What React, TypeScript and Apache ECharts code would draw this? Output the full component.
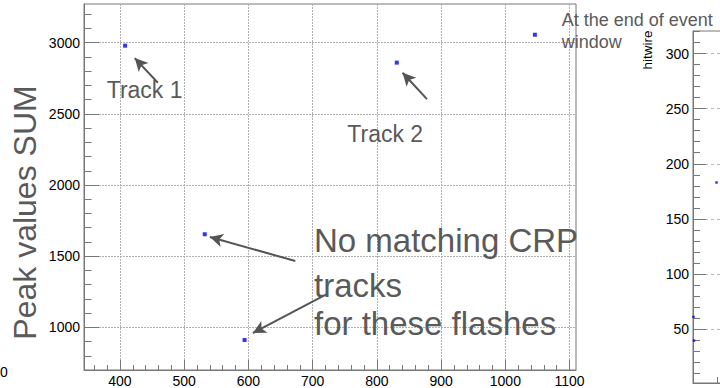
import React, { useEffect, useRef } from "react";
import * as echarts from "echarts";

// ---- data ----
const flashTime = [408, 831, 1046, 532, 594];
const peakSum = [2979, 2860, 3056, 1654, 911];

const xMajorTicks = [400, 500, 600, 700, 800, 900, 1000, 1100];
const xMinorTicks = [360, 380, 400, 420, 440, 460, 480, 500, 520, 540, 560, 580, 600, 620, 640, 660, 680, 700, 720, 740, 760, 780, 800, 820, 840, 860, 880, 900, 920, 940, 960, 980, 1000, 1020, 1040, 1060, 1080, 1100];
const yMajorTicks = [1000, 1500, 2000, 2500, 3000];
const yMinorTicks = [800, 900, 1000, 1100, 1200, 1300, 1400, 1500, 1600, 1700, 1800, 1900, 2000, 2100, 2200, 2300, 2400, 2500, 2600, 2700, 2800, 2900, 3000, 3100, 3200];

// arrows: [tailX, tailY, headX, headY] in data units
const arrowTrack1 = [459, 2719, 423, 2892];
const arrowTrack2 = [878, 2604, 840, 2789];
const arrowNoMatch1 = [673, 1466, 540, 1635];
const arrowNoMatch2 = [722, 1234, 607, 960];

// right (partial) chart
const hitX = [0.1, 4.9, 0.2];
const hitWire = [61, 183, 39.5];
const hitMajorTicks = [50, 100, 150, 200, 250, 300];
const hitMinorTicks = [10, 20, 30, 40, 50, 60, 70, 80, 90, 100, 110, 120, 130, 140, 150, 160, 170, 180, 190, 200, 210, 220, 230, 240, 250, 260, 270, 280, 290, 300, 310, 320];
const hitXTicks = [5];

const FONT = "'Liberation Sans', Arial, Helvetica, sans-serif";
const AXIS_COLOR = "#777";
const NOTE_COLOR = "#5a5a5a";

function arrowPair(a: number[]) {
  return [
    { coord: [a[0], a[1]], symbol: "none" },
    { coord: [a[2], a[3]], symbol: "arrow" },
  ];
}

const plain = (v: number) => String(v);

export default function App() {
  const ref = useRef<HTMLDivElement>(null);

  useEffect(() => {
    if (!ref.current) return;
    const chart = echarts.init(ref.current, null, { renderer: "svg" });

    const label = { color: "#000", fontSize: 14, lineHeight: 14, fontFamily: FONT, formatter: plain };

    const option: any = {
      animation: false,
      backgroundColor: "#fff",
      grid: [
        { left: 84, top: 4, width: 492, height: 366, show: true, borderColor: AXIS_COLOR, borderWidth: 1, backgroundColor: "transparent", outerBoundsMode: "none", containLabel: false },
        { left: 693, top: 31, width: 480, height: 352, show: true, borderColor: AXIS_COLOR, borderWidth: 1, backgroundColor: "transparent", outerBoundsMode: "none", containLabel: false },
      ],
      xAxis: [
        {
          gridIndex: 0, type: "value", position: "bottom", min: 344, max: 1110,
          axisLine: { show: true, lineStyle: { color: AXIS_COLOR } },
          axisTick: { show: true, inside: true, length: 5, customValues: xMinorTicks, lineStyle: { color: AXIS_COLOR } },
          axisLabel: { ...label, margin: 3.5, customValues: xMajorTicks },
          splitLine: { show: false },
        },
        {
          gridIndex: 0, type: "value", position: "bottom", min: 344, max: 1110,
          axisLine: { show: false },
          axisTick: { show: true, inside: true, length: 10, customValues: xMajorTicks, lineStyle: { color: AXIS_COLOR } },
          axisLabel: { show: false },
          splitLine: { show: true, lineStyle: { color: "#b0b0b0", type: [2, 1], width: 1 } },
        },
        {
          gridIndex: 1, type: "value", position: "bottom", min: 0, max: 100,
          axisLine: { show: true, lineStyle: { color: AXIS_COLOR } },
          axisTick: { show: true, inside: true, length: 6, customValues: hitXTicks, lineStyle: { color: AXIS_COLOR } },
          axisLabel: { show: false },
          splitLine: { show: false },
        },
      ],
      yAxis: [
        {
          gridIndex: 0, type: "value", position: "left", min: 700, max: 3272,
          axisLine: { show: true, lineStyle: { color: AXIS_COLOR } },
          axisTick: { show: true, inside: true, length: 7.5, customValues: yMinorTicks, lineStyle: { color: AXIS_COLOR } },
          axisLabel: { ...label, margin: 4, customValues: yMajorTicks },
          splitLine: { show: false },
        },
        {
          gridIndex: 0, type: "value", position: "left", min: 700, max: 3272,
          axisLine: { show: false },
          axisTick: { show: true, inside: true, length: 15, customValues: yMajorTicks, lineStyle: { color: AXIS_COLOR } },
          axisLabel: { show: false },
          splitLine: { show: true, lineStyle: { color: "#b0b0b0", type: [2, 1], width: 1 } },
        },
        {
          gridIndex: 1, type: "value", position: "left", min: 1, max: 320.5,
          axisLine: { show: true, lineStyle: { color: AXIS_COLOR } },
          axisTick: { show: true, inside: true, length: 7, customValues: hitMinorTicks, lineStyle: { color: AXIS_COLOR } },
          axisLabel: { ...label, margin: 4, customValues: hitMajorTicks },
          splitLine: { show: false },
        },
        {
          gridIndex: 1, type: "value", position: "left", min: 1, max: 320.5,
          axisLine: { show: false },
          axisTick: { show: true, inside: true, length: 13, customValues: hitMajorTicks, lineStyle: { color: AXIS_COLOR } },
          axisLabel: { show: false },
          splitLine: { show: true, lineStyle: { color: "#bbb", type: [3, 3], width: 1 } },
        },
      ],
      series: [
        {
          type: "scatter", xAxisIndex: 0, yAxisIndex: 0,
          symbol: "rect", symbolSize: 4,
          itemStyle: { color: "#0000ff" },
          data: flashTime.map((x, i) => [x, peakSum[i]]),
          z: 5,
          markLine: {
            silent: true,
            symbol: ["none", "arrow"],
            symbolSize: [10, 13],
            label: { show: false },
            lineStyle: { color: "#555", width: 2, type: "solid" },
            itemStyle: { color: "#555" },
            data: [arrowPair(arrowTrack1), arrowPair(arrowTrack2), arrowPair(arrowNoMatch1), arrowPair(arrowNoMatch2)],
          },
        },
        {
          type: "scatter", xAxisIndex: 2, yAxisIndex: 2,
          symbol: "rect", symbolSize: 2.5,
          itemStyle: { color: "#0000ff" },
          data: hitX.map((x, i) => [x, hitWire[i]]),
        },
      ],
      graphic: [
        { type: "text", x: 24.5, y: 212.5, rotation: Math.PI / 2, z: 10,
          style: { text: "Peak values SUM", font: `32px ${FONT}`, fill: NOTE_COLOR, align: "center", verticalAlign: "middle" } },
        { type: "text", x: 106.7, y: 90, z: 10,
          style: { text: "Track 1", font: `23px ${FONT}`, fill: NOTE_COLOR, align: "left", verticalAlign: "middle" } },
        { type: "text", x: 347.3, y: 133.6, z: 10,
          style: { text: "Track 2", font: `23px ${FONT}`, fill: NOTE_COLOR, align: "left", verticalAlign: "middle" } },
        { type: "text", x: 314, y: 240.5, z: 10,
          style: { text: "No matching CRP", font: `33px ${FONT}`, fill: NOTE_COLOR, align: "left", verticalAlign: "middle" } },
        { type: "text", x: 314, y: 285.5, z: 10,
          style: { text: "tracks", font: `33px ${FONT}`, fill: NOTE_COLOR, align: "left", verticalAlign: "middle" } },
        { type: "text", x: 314, y: 323.8, z: 10,
          style: { text: "for these flashes", font: `33px ${FONT}`, fill: NOTE_COLOR, align: "left", verticalAlign: "middle" } },
        { type: "text", x: 561.7, y: 20.4, z: 10,
          style: { text: "At the end of event", font: `18px ${FONT}`, fill: NOTE_COLOR, align: "left", verticalAlign: "middle" } },
        { type: "text", x: 561.7, y: 42, z: 10,
          style: { text: "window", font: `18px ${FONT}`, fill: NOTE_COLOR, align: "left", verticalAlign: "middle" } },
        { type: "text", x: 647, y: 50, rotation: Math.PI / 2, z: 10,
          style: { text: "hitwire", font: `13.5px ${FONT}`, fill: "#000", align: "center", verticalAlign: "middle" } },
        { type: "text", x: 0, y: 372, z: 10,
          style: { text: "0", font: `14px ${FONT}`, fill: "#000", align: "left", verticalAlign: "middle" } },
      ],
    };

    chart.setOption(option);
    return () => chart.dispose();
  }, []);

  return (
    <div
      ref={ref}
      style={{ position: "fixed", left: 0, top: 0, width: 720, height: 388, background: "#fff" }}
    />
  );
}
